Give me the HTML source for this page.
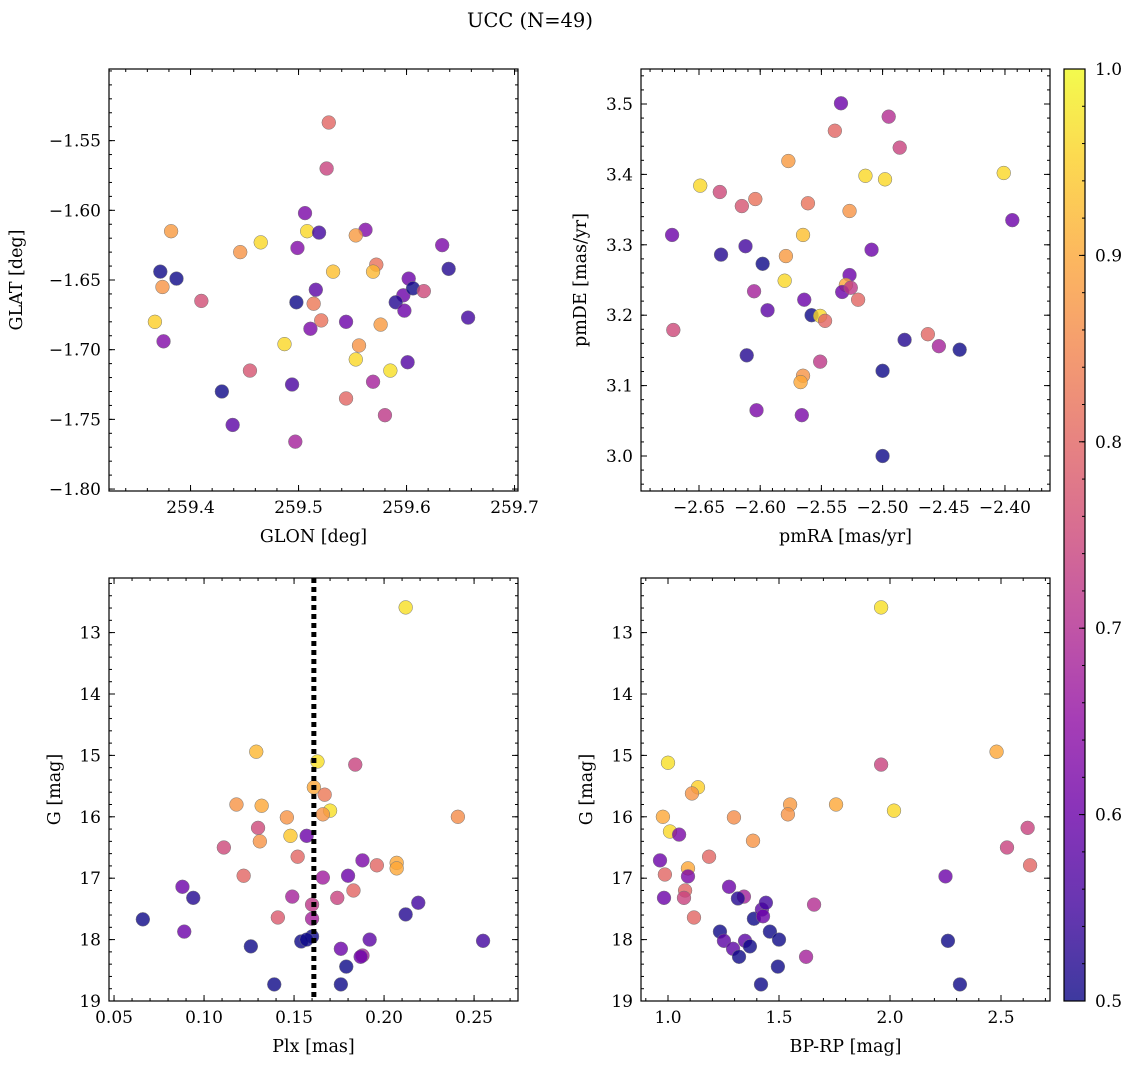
<!DOCTYPE html>
<html><head><meta charset="utf-8"><style>
html,body{margin:0;padding:0;background:#fff}
svg{display:block;font-family:"DejaVu Serif","Liberation Serif",serif}
</style></head><body>
<svg id="fig" width="1136" height="1068" viewBox="0 0 1136 1068">
<rect width="1136" height="1068" fill="#fff"/>
<text x="530" y="27" font-size="19.5" text-anchor="middle">UCC (N=49)</text>
<defs>
<linearGradient id="plasma" x1="0" y1="1" x2="0" y2="0">
<stop offset="0" stop-color="#0d0887"/><stop offset="0.1" stop-color="#41049d"/><stop offset="0.2" stop-color="#6a00a8"/><stop offset="0.3" stop-color="#8f0da4"/><stop offset="0.4" stop-color="#b12a90"/><stop offset="0.5" stop-color="#cc4778"/><stop offset="0.6" stop-color="#e16462"/><stop offset="0.7" stop-color="#f2844b"/><stop offset="0.8" stop-color="#fca636"/><stop offset="0.9" stop-color="#fcce25"/><stop offset="1" stop-color="#f0f921"/>
</linearGradient>
</defs>
</svg>
<script>
// Panel 1: GLON / GLAT
const glon=[259.528,259.526,259.506,259.508,259.519,259.382,259.562,259.499,259.446,259.465,259.553,259.532,259.572,259.569,259.372,259.387,259.374,259.516,259.602,259.597,259.410,259.498,259.514,259.590,259.598,259.367,259.521,259.511,259.544,259.576,259.375,259.556,259.487,259.553,259.601,259.455,259.585,259.569,259.494,259.429,259.544,259.580,259.439,259.497,259.606,259.616,259.633,259.639,259.657];
const glat=[-1.537,-1.570,-1.602,-1.615,-1.616,-1.615,-1.614,-1.627,-1.630,-1.623,-1.618,-1.644,-1.639,-1.644,-1.644,-1.649,-1.655,-1.657,-1.649,-1.661,-1.665,-1.666,-1.667,-1.666,-1.672,-1.680,-1.679,-1.685,-1.680,-1.682,-1.694,-1.697,-1.696,-1.707,-1.709,-1.715,-1.715,-1.723,-1.725,-1.730,-1.735,-1.747,-1.754,-1.766,-1.656,-1.658,-1.625,-1.642,-1.677];
const prob1=[0.80,0.74,0.62,0.96,0.55,0.88,0.63,0.63,0.87,0.96,0.88,0.93,0.82,0.92,0.5,0.5,0.87,0.58,0.6,0.6,0.76,0.5,0.83,0.52,0.6,0.95,0.82,0.62,0.6,0.88,0.63,0.87,0.96,0.96,0.57,0.77,0.97,0.68,0.56,0.5,0.8,0.72,0.58,0.68,0.5,0.75,0.62,0.52,0.55];
// Panel 2: pmRA / pmDE
const pmra=[-2.534,-2.495,-2.539,-2.486,-2.649,-2.577,-2.633,-2.514,-2.498,-2.401,-2.615,-2.604,-2.561,-2.527,-2.565,-2.672,-2.394,-2.612,-2.632,-2.579,-2.509,-2.598,-2.580,-2.527,-2.605,-2.564,-2.530,-2.533,-2.526,-2.594,-2.558,-2.551,-2.547,-2.520,-2.671,-2.482,-2.463,-2.454,-2.437,-2.611,-2.551,-2.565,-2.567,-2.500,-2.603,-2.566,-2.500];
const pmde=[3.501,3.482,3.462,3.438,3.384,3.419,3.375,3.398,3.393,3.402,3.355,3.365,3.359,3.348,3.314,3.314,3.335,3.298,3.286,3.284,3.293,3.273,3.249,3.257,3.234,3.222,3.243,3.233,3.239,3.207,3.200,3.199,3.192,3.222,3.179,3.165,3.173,3.156,3.151,3.143,3.134,3.114,3.105,3.121,3.065,3.058,3.000];
const prob2=[0.6,0.7,0.8,0.74,0.96,0.88,0.75,0.96,0.96,0.96,0.77,0.82,0.82,0.87,0.93,0.6,0.6,0.55,0.52,0.88,0.6,0.5,0.96,0.6,0.68,0.6,0.9,0.6,0.72,0.58,0.5,0.96,0.8,0.8,0.75,0.52,0.8,0.68,0.5,0.52,0.72,0.87,0.9,0.5,0.62,0.62,0.5];
// Panel 3: Plx / G
const plx=[0.212,0.129,0.163,0.184,0.161,0.167,0.118,0.132,0.170,0.166,0.146,0.241,0.148,0.130,0.131,0.207,0.207,0.152,0.111,0.157,0.188,0.196,0.122,0.166,0.180,0.088,0.183,0.174,0.094,0.149,0.219,0.160,0.160,0.212,0.141,0.066,0.089,0.160,0.154,0.192,0.157,0.255,0.126,0.176,0.188,0.187,0.179,0.176,0.139];
const gmag3=[12.59,14.94,15.10,15.15,15.52,15.64,15.80,15.82,15.90,15.96,16.01,16.00,16.31,16.18,16.40,16.75,16.84,16.65,16.50,16.31,16.71,16.79,16.96,16.99,16.96,17.14,17.20,17.32,17.32,17.30,17.40,17.43,17.66,17.59,17.64,17.67,17.87,17.95,18.03,18.00,18.00,18.02,18.11,18.15,18.26,18.28,18.44,18.73,18.73];
const prob3=[0.97,0.92,0.97,0.74,0.9,0.83,0.87,0.9,0.97,0.87,0.87,0.86,0.94,0.75,0.87,0.9,0.9,0.8,0.75,0.6,0.62,0.8,0.8,0.67,0.6,0.6,0.8,0.74,0.52,0.68,0.55,0.72,0.68,0.52,0.78,0.5,0.6,0.5,0.5,0.58,0.5,0.55,0.5,0.6,0.68,0.6,0.5,0.5,0.5];
const plxMean=0.161;
// Panel 4: BP-RP / G
const bprp=[1.96,2.48,1.00,1.135,1.96,1.108,1.55,1.757,0.977,1.54,1.297,2.018,1.009,1.05,2.62,2.527,1.383,1.185,1.09,0.964,0.986,1.09,2.631,2.25,1.077,1.072,0.982,1.275,1.342,1.315,1.658,1.117,1.387,1.423,1.428,1.234,1.459,1.252,1.347,1.369,1.293,1.50,1.32,1.622,1.495,1.419,2.315,2.261,1.441];
const gmag4=[12.59,14.94,15.12,15.52,15.15,15.62,15.80,15.80,16.00,15.96,16.01,15.90,16.24,16.29,16.18,16.50,16.39,16.65,16.84,16.71,16.94,16.97,16.79,16.97,17.20,17.32,17.32,17.14,17.30,17.33,17.43,17.64,17.66,17.51,17.62,17.87,17.87,18.02,18.02,18.11,18.15,18.00,18.28,18.28,18.44,18.73,18.73,18.02,17.40];
const prob4=[0.97,0.9,0.97,0.95,0.74,0.87,0.88,0.9,0.9,0.87,0.86,0.96,0.96,0.62,0.74,0.74,0.87,0.8,0.9,0.6,0.8,0.62,0.8,0.6,0.8,0.74,0.6,0.6,0.68,0.52,0.7,0.8,0.5,0.58,0.6,0.5,0.5,0.58,0.58,0.5,0.58,0.5,0.5,0.68,0.5,0.5,0.5,0.5,0.55];
// colorbar ticks
const cbTicks=[0.5,0.6,0.7,0.8,0.9,1.0];

const NS="http://www.w3.org/2000/svg";
const svg=document.getElementById('fig');
const stops=[[13,8,135],[65,4,157],[106,0,168],[143,13,164],[177,42,144],[204,71,120],[225,100,98],[242,132,75],[252,166,54],[252,206,37],[240,249,33]];
function cmap(p){let t=Math.max(0,Math.min(1,(p-0.5)/0.5))*10;let i=Math.min(9,Math.floor(t));let f=t-i;let a=stops[i],b=stops[i+1];return 'rgb('+a.map((v,k)=>Math.round(v+(b[k]-v)*f)).join(',')+')';}
function mk(tag,attrs,parent){const e=document.createElementNS(NS,tag);for(const k in attrs)e.setAttribute(k,attrs[k]);(parent||svg).appendChild(e);return e;}

function panel(cfg){
  const g=mk('g',{});
  
  
  const {x0,x1,y0,y1}=cfg.box;
  const sx=v=>x0+(v-cfg.xd[0])/(cfg.xd[1]-cfg.xd[0])*(x1-x0);
  const sy=v=>y0+(v-cfg.yd[0])/(cfg.yd[1]-cfg.yd[0])*(y1-y0);
  const pg=mk('g',{},g);
  
  
  for(let i=0;i<cfg.xs.length;i++){
    const c=mk('circle',{cx:sx(cfg.xs[i]),cy:sy(cfg.ys[i]),r:6.9,fill:cmap(cfg.ps[i]),'fill-opacity':0.8,stroke:'#777','stroke-width':0.5},pg);
    
    
  }
  if(cfg.extra)cfg.extra(g,sx,sy);
  const fr=mk('rect',{x:x0,y:y0,width:x1-x0,height:y1-y0,fill:'none',stroke:'#000','stroke-width':1.2},g);
  
  
  const tg=mk('g',{stroke:'#000','stroke-width':1},g);
  const eps=1e-9;
  for(let v=Math.ceil(cfg.xd[0]/cfg.xmin-eps)*cfg.xmin; v<=cfg.xd[1]+eps; v+=cfg.xmin){const X=sx(v);if(X<x0-0.1||X>x1+0.1)continue;mk('line',{x1:X,x2:X,y1:y1,y2:y1-3},tg);mk('line',{x1:X,x2:X,y1:y0,y2:y0+3},tg);}
  const ymn=Math.min(...cfg.yd),ymx=Math.max(...cfg.yd);
  for(let v=Math.ceil(ymn/cfg.ymin-eps)*cfg.ymin; v<=ymx+eps; v+=cfg.ymin){const Y=sy(v);mk('line',{x1:x0,x2:x0+3,y1:Y,y2:Y},tg);mk('line',{x1:x1,x2:x1-3,y1:Y,y2:Y},tg);}
  cfg.xt.forEach(v=>{const X=sx(v);mk('line',{x1:X,x2:X,y1:y1,y2:y1-6},tg);mk('line',{x1:X,x2:X,y1:y0,y2:y0+6},tg);
    const t=mk('text',{x:X,y:y1+22,'font-size':17,'text-anchor':'middle'},g);t.textContent=cfg.xf(v).replace('-','\u2212');
    });
  cfg.yt.forEach(v=>{const Y=sy(v);mk('line',{x1:x0,x2:x0+6,y1:Y,y2:Y},tg);mk('line',{x1:x1,x2:x1-6,y1:Y,y2:Y},tg);
    const t=mk('text',{x:x0-8,y:Y+6,'font-size':17,'text-anchor':'end'},g);t.textContent=cfg.yf(v).replace('-','\u2212');
    });
  const xl=mk('text',{x:(x0+x1)/2,y:y1+51,'font-size':17.5,'text-anchor':'middle'},g);xl.textContent=cfg.xlab;
  
  const yx=cfg.ylx, yc=(y0+y1)/2;
  const yl=mk('text',{x:yx,y:yc,'font-size':17.5,'text-anchor':'middle',transform:'rotate(-90 '+yx+' '+yc+')'},g);yl.textContent=cfg.ylab;
  
}
const f2=v=>v.toFixed(2), f1=v=>v.toFixed(1), f0=v=>v.toFixed(0);
panel({name:'glon-glat-panel',box:{x0:109,x1:518,y0:69,y1:491},xd:[259.3245,259.7032],yd:[-1.4986,-1.8014],xs:glon,ys:glat,ps:prob1,
  xt:[259.4,259.5,259.6,259.7],xmin:0.02,yt:[-1.55,-1.60,-1.65,-1.70,-1.75,-1.80],ymin:0.01,xf:f1,yf:f2,xlab:'GLON [deg]',ylab:'GLAT [deg]',ylx:22});
panel({name:'pm-panel',box:{x0:641,x1:1050,y0:69,y1:491},xd:[-2.6974,-2.3632],yd:[3.5497,2.9503],xs:pmra,ys:pmde,ps:prob2,
  xt:[-2.65,-2.60,-2.55,-2.50,-2.45,-2.40],xmin:0.01,yt:[3.0,3.1,3.2,3.3,3.4,3.5],ymin:0.02,xf:f2,yf:f1,xlab:'pmRA [mas/yr]',ylab:'pmDE [mas/yr]',ylx:586});
panel({name:'plx-g-panel',box:{x0:109,x1:518,y0:578,y1:1001},xd:[0.0472,0.2744],yd:[12.111,19.0],xs:plx,ys:gmag3,ps:prob3,
  xt:[0.05,0.10,0.15,0.20,0.25],xmin:0.01,yt:[13,14,15,16,17,18,19],ymin:0.2,xf:f2,yf:f0,xlab:'Plx [mas]',ylab:'G [mag]',ylx:60,
  extra:(g,sx,sy)=>{const l=mk('line',{x1:sx(plxMean),x2:sx(plxMean),y1:578,y2:1001,stroke:'#000','stroke-width':5,'stroke-dasharray':'5 4'},g);
    }});
panel({name:'cmd-panel',box:{x0:641,x1:1050,y0:578,y1:1001},xd:[0.8784,2.7207],yd:[12.111,19.0],xs:bprp,ys:gmag4,ps:prob4,
  xt:[1.0,1.5,2.0,2.5],xmin:0.1,yt:[13,14,15,16,17,18,19],ymin:0.2,xf:f1,yf:f0,xlab:'BP-RP [mag]',ylab:'G [mag]',ylx:592});
(function(){
  const g=mk('g',{});
  
  
  const x0=1064,x1=1085,y0=69,y1=1001;
  const sy=v=>y1-(v-0.5)/0.5*(y1-y0);
  mk('rect',{x:x0,y:y0,width:x1-x0,height:y1-y0,fill:'url(#plasma)','fill-opacity':0.8},g);
  mk('rect',{x:x0,y:y0,width:x1-x0,height:y1-y0,fill:'none',stroke:'#000','stroke-width':1.2},g);
  for(let v=0.5;v<=1.0001;v+=0.02){const Y=sy(v);mk('line',{x1:x1,x2:x1-3,y1:Y,y2:Y,stroke:'#000'},g);}
  cbTicks.forEach(v=>{const Y=sy(v);mk('line',{x1:x1,x2:x1-6,y1:Y,y2:Y,stroke:'#000'},g);
    const t=mk('text',{x:x1+10,y:Y+6,'font-size':17},g);t.textContent=v.toFixed(1);
    });
})();
</script>
</body></html>
